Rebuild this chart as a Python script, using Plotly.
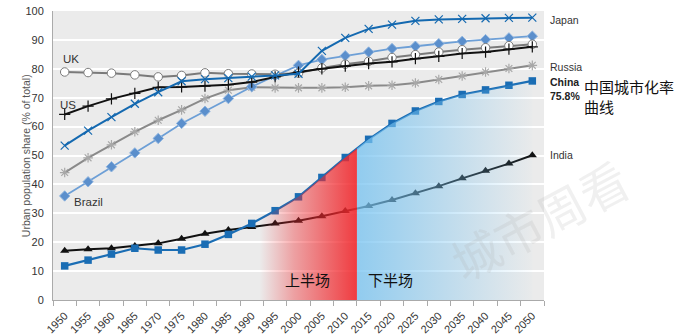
import numpy as np
import plotly.graph_objects as go

years = list(range(1950, 2051, 5))
tick_labels = [str(y) for y in years]

japan = [53.4, 58.6, 63.3, 67.9, 71.9, 75.7, 76.4, 76.8, 77.3, 77.7, 78.3, 86.2, 90.7, 93.8, 95.3, 96.6, 97.1, 97.3, 97.5, 97.6, 97.7]
uk = [78.9, 78.7, 78.5, 77.9, 77.2, 77.7, 78.6, 78.3, 78.2, 78.1, 78.5, 80.3, 81.6, 82.6, 83.9, 84.9, 85.8, 86.6, 87.3, 88.0, 88.5]
us = [64.2, 67.1, 69.6, 71.5, 73.6, 73.7, 74.0, 74.5, 75.4, 77.2, 78.9, 80.0, 80.9, 81.8, 82.4, 83.5, 84.3, 85.3, 85.8, 86.8, 87.6]
russia = [44.1, 49.2, 53.7, 58.2, 62.2, 65.8, 69.7, 72.6, 73.6, 73.4, 73.4, 73.4, 73.6, 74.1, 74.3, 75.1, 76.3, 77.5, 78.9, 80.1, 81.2]
brazil = [36.0, 40.9, 46.1, 50.9, 55.9, 61.1, 65.3, 69.7, 73.8, 77.6, 81.2, 83.2, 84.5, 85.8, 87.0, 87.8, 88.7, 89.5, 90.1, 90.7, 91.3]
china = [11.8, 13.8, 15.9, 17.9, 17.3, 17.3, 19.3, 22.7, 26.5, 30.9, 35.7, 42.4, 49.3, 55.6, 61.1, 65.4, 68.7, 71.1, 72.7, 74.3, 75.8]
india = [17.0, 17.6, 17.9, 18.7, 19.6, 21.2, 22.9, 24.2, 25.3, 26.5, 27.4, 29.0, 30.8, 32.5, 34.6, 36.9, 39.4, 42.1, 44.7, 47.2, 50.1]

# phase boundaries (years)
first_half = (1991.7, 2012.5)
second_half = (2012.5, 2050)

FONT = "Liberation Sans, Arial, sans-serif"
CJK = "Noto Sans CJK SC, sans-serif"

fig = go.Figure()

def add(y, color, width, symbol, msize, mcolor, mline_color, mline_w=1):
    fig.add_trace(go.Scatter(
        x=years, y=y, mode="lines+markers",
        line=dict(color=color, width=width),
        marker=dict(symbol=symbol, size=msize, color=mcolor,
                    line=dict(color=mline_color, width=mline_w)),
        showlegend=False, hoverinfo="skip"))

add(russia, "#8a8a8a", 2, "asterisk-open", 8, "#a8a8a8", "#a8a8a8", 1.2)
add(brazil, "#6d9fd6", 1.8, "diamond", 8, "#5b8fcc", "#8fb5e0", 1)
add(uk, "#7a7a7a", 2, "circle", 8.5, "#ffffff", "#7a7a7a", 1)
add(us, "#111111", 2, "cross-thin-open", 8, "#111111", "#111111", 1.2)
add(japan, "#1469b0", 2, "x-thin-open", 8, "#1469b0", "#1469b0", 1.2)
add(india, "#111111", 2, "triangle-up", 8, "#111111", "#111111", 0)
add(china, "#1a6db4", 2.2, "square", 7.5, "#1a6db4", "#1a6db4", 0)

def region(x0, x1, colorscale):
    xs = [x0] + [y for y in years if x0 < y < x1] + [x1]
    ys = list(np.interp(xs, years, china))
    fig.add_trace(go.Scatter(
        x=xs + [x1, x0], y=ys + [0, 0], mode="none", fill="toself",
        fillgradient=dict(type="horizontal", colorscale=colorscale, start=x0, stop=x1),
        showlegend=False, hoverinfo="skip"))

region(first_half[0], first_half[1],
       [[0, "rgba(240,40,45,0)"], [0.35, "rgba(240,40,45,0.38)"], [1, "rgba(240,40,45,0.9)"]])
region(second_half[0], second_half[1],
       [[0, "rgba(120,195,240,0.78)"], [1, "rgba(120,195,240,0.02)"]])

annos = [
    dict(x=1950, y=83.5, text="UK", xanchor="left", xshift=-4),
    dict(x=1950, y=67.5, text="US", xanchor="left", xshift=-7),
    dict(x=1950, y=34.0, text="Brazil", xanchor="left", xshift=7),
]
for a in annos:
    fig.add_annotation(x=a["x"], y=a["y"], text=a["text"], xanchor=a["xanchor"], xshift=a["xshift"],
                       showarrow=False, font=dict(family=FONT, size=11.5, color="#333333"))

right = [("Japan", 96.8, False), ("Russia", 80.6, False), ("India", 50.2, False)]
for t, y, b in right:
    fig.add_annotation(xref="paper", x=1.0, y=y, text=t, xanchor="left", xshift=4,
                       showarrow=False, font=dict(family=FONT, size=10.5, color="#333333"))
fig.add_annotation(xref="paper", x=1.0, y=73.0, text="<b>China</b><br><b>75.8%</b>", xanchor="left",
                   xshift=4, align="left", showarrow=False,
                   font=dict(family=FONT, size=10.5, color="#222222"))
fig.add_annotation(xref="paper", x=1.0, y=70.4, text="中国城市化率<br>曲线", xanchor="left",
                   xshift=38, align="left", showarrow=False,
                   font=dict(family=CJK, size=15, color="#111111"))

fig.add_annotation(x=2002, y=7, text="上半场", showarrow=False,
                   font=dict(family=CJK, size=15, color="#111111"))
fig.add_annotation(x=2019.6, y=7, text="下半场", showarrow=False,
                   font=dict(family=CJK, size=15, color="#111111"))

fig.add_annotation(xref="paper", yref="paper", x=0.99, y=0.28, xanchor="center", yanchor="middle",
                   text="城市周看", textangle=-28,
                   showarrow=False, font=dict(family=CJK, size=48, color="rgba(170,170,170,0.18)"))

fig.add_annotation(xref="paper", yref="paper", x=-0.072, y=0.5, text="Urban population share (% of total)",
                   textangle=-90, showarrow=False, font=dict(family=FONT, size=10.5, color="#555555"))

bounds = [y - 2.5 for y in years] + [years[-1] + 2.5]

fig.update_layout(
    width=680, height=336,
    margin=dict(l=53, r=136, t=11, b=36, autoexpand=False),
    paper_bgcolor="white", plot_bgcolor="#ebebeb",
    font=dict(family=FONT, color="#333333"),
    xaxis=dict(range=[1947.5, 2052.5], tickvals=years, ticktext=tick_labels, tickangle=-45,
               ticks="outside", ticklen=4, tickcolor="rgba(0,0,0,0)",
               tickfont=dict(family=FONT, size=11, color="#333333"),
               showgrid=False, zeroline=False, showline=True, linecolor="#aaaaaa", linewidth=1,
               minor=dict(tickvals=bounds, ticks="outside", ticklen=5, tickcolor="#aaaaaa",
                          showgrid=False),
               fixedrange=True),
    yaxis=dict(range=[0, 100], dtick=10, showgrid=True, gridcolor="#ffffff", gridwidth=1.5,
               ticks="outside", ticklen=6, tickcolor="rgba(0,0,0,0)",
               tickfont=dict(family=FONT, size=11, color="#333333"),
               zeroline=False, showline=True, linecolor="#aaaaaa", linewidth=1,
               fixedrange=True),
)

fig.write_html("out.html")
